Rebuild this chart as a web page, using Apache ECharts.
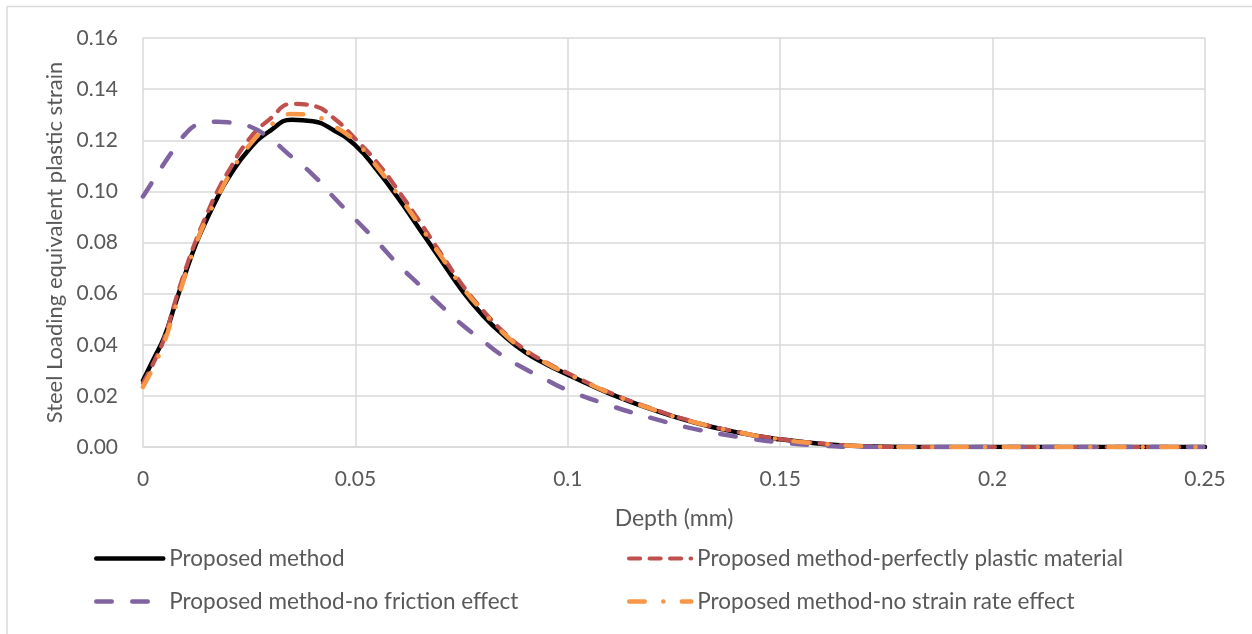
<!DOCTYPE html>
<html>
<head>
<meta charset="utf-8">
<script src="https://cdn.jsdelivr.net/npm/echarts@6/dist/echarts.min.js"></script>
<style>
  html, body { margin: 0; padding: 0; background: #ffffff; }
  #chart { width: 1252px; height: 634px; }
</style>
</head>
<body>
<div id="chart"></div>
<script>
// Depth below the surface (mm)
const depth = [0, 0.0025, 0.005, 0.0075, 0.01, 0.0125, 0.015, 0.0175, 0.02, 0.025,
  0.03, 0.035, 0.04, 0.045, 0.05, 0.055, 0.06, 0.065, 0.07, 0.075,
  0.08, 0.085, 0.09, 0.095, 0.1, 0.11, 0.12, 0.13, 0.14, 0.15,
  0.16, 0.17, 0.18, 0.19, 0.2, 0.21, 0.22, 0.23, 0.24, 0.25];

// Equivalent plastic strain of the steel at each depth
const proposed = [0.026, 0.0344, 0.043, 0.0555, 0.068, 0.0795, 0.089, 0.0975, 0.105, 0.1165,
  0.1238, 0.128, 0.1274, 0.1238, 0.118, 0.1085, 0.0975, 0.0855, 0.0735, 0.0615,
  0.0515, 0.0435, 0.037, 0.0323, 0.0283, 0.0208, 0.0146, 0.0095, 0.0057, 0.003,
  0.0012, 0.0003, 0, 0, 0, 0, 0, 0, 0, 0];

const perfectlyPlastic = [0.025, 0.033, 0.0425, 0.0565, 0.0695, 0.081, 0.091, 0.1, 0.1075, 0.1205,
  0.1285, 0.1342, 0.1335, 0.1285, 0.1205, 0.1115, 0.1005, 0.0885, 0.076, 0.0638,
  0.0535, 0.0448, 0.038, 0.033, 0.0289, 0.0212, 0.0149, 0.0097, 0.0059, 0.0031,
  0.0013, 0.0003, 0, 0, 0, 0, 0, 0, 0, 0];

const noFriction = [0.098, 0.1045, 0.111, 0.117, 0.1225, 0.126, 0.127, 0.1272, 0.127, 0.1255,
  0.1205, 0.1135, 0.1065, 0.0975, 0.089, 0.0805, 0.0715, 0.0635, 0.0555, 0.048,
  0.0415, 0.0353, 0.0305, 0.0262, 0.0222, 0.0162, 0.0112, 0.0070, 0.0040, 0.0018,
  0.0005, 0, 0, 0, 0, 0, 0, 0, 0, 0];

const noStrainRate = [0.0235, 0.0315, 0.041, 0.054, 0.0675, 0.0795, 0.0895, 0.0975, 0.1055, 0.118,
  0.1258, 0.1303, 0.1295, 0.1255, 0.1195, 0.1098, 0.0988, 0.087, 0.075, 0.063,
  0.053, 0.0443, 0.0376, 0.0327, 0.0286, 0.021, 0.0147, 0.0096, 0.0058, 0.003,
  0.0012, 0.0003, 0, 0, 0, 0, 0, 0, 0, 0];

const seriesNames = [
  'Proposed method',
  'Proposed method-perfectly plastic material',
  'Proposed method-no friction effect',
  'Proposed method-no strain rate effect'
];

const xTickLabels = ['0', '0.05', '0.1', '0.15', '0.2', '0.25'];
const yTickLabels = ['0.00', '0.02', '0.04', '0.06', '0.08', '0.10', '0.12', '0.14', '0.16'];

const FONT = 'Lato';
const TEXT = '#595959';
const GRID = '#D9D9D9';

function pairs(values) {
  return depth.map((d, i) => [d, values[i]]);
}

const styles = [
  { color: '#000000', width: 4.5, type: 'solid' },
  { color: '#C0504D', width: 4.2, type: [11, 9.5] },
  { color: '#8064A2', width: 4.5, type: [15.5, 20.5] },
  { color: '#F79646', width: 4.5, type: [15.5, 18.5, 0.1, 18.5] }
];

const valueSets = [proposed, perfectlyPlastic, noFriction, noStrainRate];

const series = seriesNames.map((name, i) => ({
  name: name,
  type: 'line',
  data: pairs(valueSets[i]),
  smooth: 0.5,
  symbol: 'none',
  animation: false,
  color: styles[i].color,
  lineStyle: {
    color: styles[i].color,
    width: styles[i].width,
    type: styles[i].type,
    cap: 'round',
    join: 'round'
  }
}));

// Two-column legend: one legend block per entry
const legendPos = [
  { left: 94, top: 547, w: 67 },
  { left: 627, top: 547, w: 62 },
  { left: 94, top: 590, w: 67 },
  { left: 627, top: 590, w: 62 }
];
const legends = seriesNames.map((name, i) => ({
  data: [name],
  left: legendPos[i].left,
  top: legendPos[i].top,
  padding: 0,
  itemWidth: legendPos[i].w,
  itemHeight: 20,
  itemGap: 0,
  selectedMode: false,
  textStyle: { fontFamily: FONT, fontSize: 22.5, color: TEXT, padding: [0, 0, 0, 1] },
  itemStyle: { opacity: 0 },
  lineStyle: { width: styles[i].width, cap: 'round' }
}));

const chart = echarts.init(document.getElementById('chart'), null, { renderer: 'canvas' });
chart.setOption({
  backgroundColor: '#ffffff',
  animation: false,
  textStyle: { fontFamily: FONT },
  grid: { left: 143, right: 47, top: 38, bottom: 187, containLabel: false },
  legend: legends,
  graphic: [
    { type: 'line', shape: { x1: 7, y1: 6.5, x2: 1252, y2: 6.5 }, style: { stroke: GRID, lineWidth: 1.5 }, silent: true },
    { type: 'line', shape: { x1: 7, y1: 6.5, x2: 7, y2: 634 }, style: { stroke: GRID, lineWidth: 1.5 }, silent: true }
  ],
  xAxis: {
    type: 'value',
    min: 0,
    max: 0.25,
    interval: 0.05,
    name: 'Depth (mm)',
    nameLocation: 'middle',
    nameGap: 60,
    nameTextStyle: { fontFamily: FONT, fontSize: 23, color: TEXT },
    axisLine: { show: true, lineStyle: { color: GRID, width: 1.5 } },
    axisTick: { show: false },
    axisLabel: {
      margin: 22,
      fontFamily: FONT, fontSize: 21, color: TEXT,
      formatter: (v) => xTickLabels[Math.round(v / 0.05)]
    },
    splitLine: { show: true, lineStyle: { color: GRID, width: 1.5 } }
  },
  yAxis: {
    type: 'value',
    min: 0,
    max: 0.16,
    interval: 0.02,
    name: 'Steel Loading equivalent plastic strain',
    nameLocation: 'middle',
    nameGap: 74,
    nameTextStyle: { fontFamily: FONT, fontSize: 22, color: TEXT },
    axisLine: { show: false },
    axisTick: { show: false },
    axisLabel: {
      margin: 25,
      fontFamily: FONT, fontSize: 21, color: TEXT,
      formatter: (v) => yTickLabels[Math.round(v / 0.02)]
    },
    splitLine: { show: true, lineStyle: { color: GRID, width: 1.5 } }
  },
  series: series
});
</script>
</body>
</html>
